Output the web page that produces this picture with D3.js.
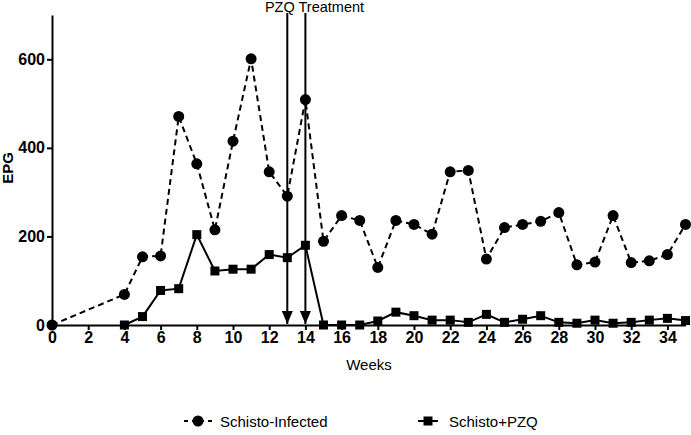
<!DOCTYPE html>
<html><head><meta charset="utf-8">
<script src="https://cdn.jsdelivr.net/npm/d3@7"></script>
<style>body{margin:0;background:#fff}svg{display:block;font-family:"Liberation Sans",Arial,sans-serif}</style>
</head><body><svg id="c" width="691" height="435"></svg>
<script>
const infWeeks = [0,4,5,6,7,8,9,10,11,12,13,14,15,16,17,18,19,20,21,22,23,24,25,26,27,28,29,30,31,32,33,34,35];
const infEPG   = [0,69,154,156,471,364,215,415,601,346,291,509,189,247,236,130,236,227,205,346,349,149,220,227,234,254,136,142,247,141,145,159,227];
const pzqWeeks = [4,5,6,7,8,9,10,11,12,13,14,15,16,17,18,19,20,21,22,23,24,25,26,27,28,29,30,31,32,33,34,35];
const pzqEPG   = [0,19,78,82,204,122,126,126,159,152,180,0,0,0,9,29,21,11,11,6,24,6,13,21,6,4,11,4,6,11,15,10];
const xTicks = [0,2,4,6,8,10,12,14,16,18,20,22,24,26,28,30,32,34];
const yTicks = [0,200,400,600];
const treatWeeks = [13,14];
const seriesNames = ["Schisto-Infected","Schisto+PZQ"];

const svg = d3.select("#c");
const x = d3.scaleLinear().domain([0,35]).range([52,685.5]);
const y = d3.scaleLinear().domain([0,700]).range([325,15]);

svg.append("defs").append("marker").attr("id","ah").attr("viewBox","0 0 13 11")
  .attr("refX",13).attr("refY",5.5).attr("markerWidth",13).attr("markerHeight",11)
  .attr("markerUnits","userSpaceOnUse").attr("orient","auto")
  .append("path").attr("d","M0,0L13,5.5L0,11Z").attr("fill","#000");

// axes
const xa = svg.append("g").attr("transform","translate(0,325)")
  .call(d3.axisBottom(x).tickValues(xTicks).tickSize(5).tickSizeOuter(0).tickPadding(2));
const ya = svg.append("g").attr("transform","translate(52,0)")
  .call(d3.axisLeft(y).tickValues(yTicks).tickSize(5).tickSizeOuter(0).tickPadding(2));
[xa,ya].forEach(a=>{
  a.select(".domain").attr("stroke","#000").attr("stroke-width",2);
  a.selectAll(".tick line").attr("stroke","#000").attr("stroke-width",2);
  a.selectAll(".tick text").attr("font-size",16).attr("font-weight","bold").attr("fill","#000")
   .attr("font-family","Liberation Sans, Arial, sans-serif");
});

// treatment arrows
svg.selectAll(".arr").data(treatWeeks).join("line").attr("class","arr")
  .attr("x1",d=>x(d)).attr("x2",d=>x(d)).attr("y1",13).attr("y2",y(0)-1)
  .attr("stroke","#000").attr("stroke-width",2).attr("marker-end","url(#ah)");
svg.append("text").attr("x",314.5).attr("y",12).attr("text-anchor","middle")
  .attr("font-size",14.5).text("PZQ Treatment");

const line = d3.line().x(d=>x(d[0])).y(d=>y(d[1]));
const inf = infWeeks.map((w,i)=>[w,infEPG[i]]);
const pzq = pzqWeeks.map((w,i)=>[w,pzqEPG[i]]);

svg.append("path").datum(inf).attr("d",line).attr("fill","none").attr("stroke","#000")
  .attr("stroke-width",2).attr("stroke-dasharray","6,4");
svg.append("path").datum(pzq).attr("d",line).attr("fill","none").attr("stroke","#000")
  .attr("stroke-width",2);

svg.selectAll(".pz").data(pzq).join("rect").attr("class","pz")
  .attr("x",d=>x(d[0])-4.5).attr("y",d=>y(d[1])-4.5).attr("width",9).attr("height",9).attr("fill","#000");
svg.selectAll(".in").data(inf).join("circle").attr("class","in")
  .attr("cx",d=>x(d[0])).attr("cy",d=>y(d[1])).attr("r",5.5).attr("fill","#000");

// axis titles
svg.append("text").attr("x",369).attr("y",370).attr("text-anchor","middle").attr("font-size",15).text("Weeks");
svg.append("text").attr("transform","translate(13,168) rotate(-90)").attr("text-anchor","middle")
  .attr("font-size",15).attr("font-weight","bold").text("EPG");

// legend
const lg = svg.append("g");
lg.append("line").attr("x1",184).attr("x2",212).attr("y1",421).attr("y2",421).attr("stroke","#000")
  .attr("stroke-width",2).attr("stroke-dasharray","4,4");
lg.append("circle").attr("cx",198).attr("cy",421).attr("r",5.5);
lg.append("text").attr("x",220).attr("y",426.5).attr("font-size",15).text(seriesNames[0]);
lg.append("line").attr("x1",418).attr("x2",438).attr("y1",421).attr("y2",421).attr("stroke","#000").attr("stroke-width",2);
lg.append("rect").attr("x",423.5).attr("y",416.5).attr("width",9).attr("height",9);
lg.append("text").attr("x",449).attr("y",426.5).attr("font-size",15).text(seriesNames[1]);
</script></body></html>
